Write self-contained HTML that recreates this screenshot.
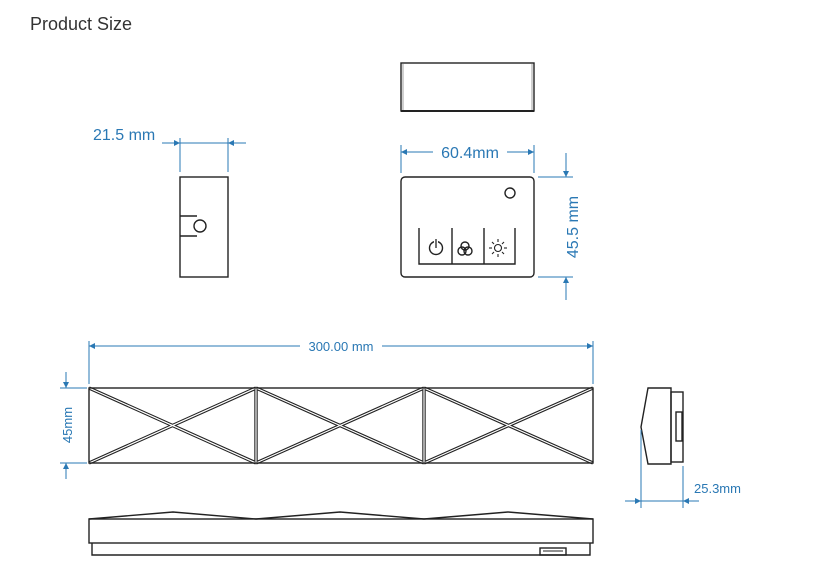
<!DOCTYPE html>
<html><head><meta charset="utf-8"><style>
html,body{margin:0;padding:0;background:#fff;}
svg{display:block;}
.b{fill:none;stroke:#222;stroke-width:1.4}
.d{stroke:#2a78b4;stroke-width:1;fill:none}
.t{fill:#2a78b4;font-family:"Liberation Sans",sans-serif}
</style></head><body>
<svg width="821" height="587" viewBox="0 0 821 587" xmlns="http://www.w3.org/2000/svg">
<defs>
<marker id="a" viewBox="0 0 10 10" refX="10" refY="5" markerWidth="8" markerHeight="6" orient="auto-start-reverse" markerUnits="userSpaceOnUse"><path d="M0,0 L10,5 L0,10 z" fill="#2a78b4"/></marker>
</defs>
<text x="30" y="30" font-family="Liberation Sans,sans-serif" font-size="18" fill="#333">Product Size</text>

<!-- top view -->
<rect x="401" y="63" width="133" height="48" class="b"/>
<line x1="401" y1="111" x2="534" y2="111" stroke="#222" stroke-width="2"/>
<line x1="403" y1="64" x2="403" y2="110" stroke="#888" stroke-width="0.8"/>
<line x1="532" y1="64" x2="532" y2="110" stroke="#888" stroke-width="0.8"/>

<!-- front view -->
<rect x="401" y="177" width="133" height="100" rx="4" class="b"/>
<circle cx="510" cy="193" r="5" class="b" stroke-width="1"/>
<path d="M419,228 V264 H515 V228 M452,228 V264 M484,228 V264" class="b"/>
<circle cx="436" cy="248" r="6.5" class="b" stroke-width="1.3"/>
<line x1="436" y1="239" x2="436" y2="248" stroke="#fff" stroke-width="4"/>
<line x1="436" y1="239" x2="436" y2="248" stroke="#222" stroke-width="1.3"/>
<circle cx="465" cy="246" r="4" class="b" stroke-width="1.1"/>
<circle cx="462" cy="251" r="4" class="b" stroke-width="1.1"/>
<circle cx="468" cy="251" r="4" class="b" stroke-width="1.1"/>
<g stroke="#222" stroke-width="1.1"><circle cx="498" cy="248" r="3.5" fill="none"/>
<line x1="498" y1="239" x2="498" y2="242"/><line x1="498" y1="254" x2="498" y2="257"/>
<line x1="489" y1="248" x2="492" y2="248"/><line x1="504" y1="248" x2="507" y2="248"/>
<line x1="492" y1="242" x2="494" y2="244"/><line x1="502" y1="252" x2="504" y2="254"/>
<line x1="504" y1="242" x2="502" y2="244"/><line x1="494" y1="252" x2="492" y2="254"/></g>
<!-- 60.4 -->
<line x1="401" y1="145" x2="401" y2="173" class="d"/>
<line x1="534" y1="145" x2="534" y2="173" class="d"/>
<line x1="401" y1="152" x2="433" y2="152" class="d" marker-start="url(#a)"/>
<line x1="507" y1="152" x2="534" y2="152" class="d" marker-end="url(#a)"/>
<text x="470" y="158" text-anchor="middle" class="t" font-size="16">60.4mm</text>
<!-- 45.5 -->
<line x1="538" y1="177" x2="573" y2="177" class="d"/>
<line x1="538" y1="277" x2="573" y2="277" class="d"/>
<line x1="566" y1="153" x2="566" y2="177" class="d" marker-end="url(#a)"/>
<line x1="566" y1="300" x2="566" y2="277" class="d" marker-end="url(#a)"/>
<text transform="translate(578,227) rotate(-90)" text-anchor="middle" class="t" font-size="16">45.5 mm</text>

<!-- side view -->
<rect x="180" y="177" width="48" height="100" class="b"/>
<path d="M180,216 H197 M180,236 H197" class="b" stroke-width="1.2"/>
<circle cx="200" cy="226" r="6" fill="#fff" class="b" stroke-width="1.2"/>
<line x1="180" y1="138" x2="180" y2="172" class="d"/>
<line x1="228" y1="138" x2="228" y2="172" class="d"/>
<line x1="162" y1="143" x2="180" y2="143" class="d" marker-end="url(#a)"/>
<line x1="246" y1="143" x2="228" y2="143" class="d" marker-end="url(#a)"/>
<line x1="180" y1="143" x2="228" y2="143" class="d"/>
<text x="93" y="140" class="t" font-size="16">21.5 mm</text>

<!-- long bar -->
<g stroke="#222" stroke-width="3.4" fill="none">
<path d="M89,388 L256,463 M89,463 L256,388 M256,388 L424,463 M256,463 L424,388 M424,388 L593,463 M424,463 L593,388 M256,388 V463 M424,388 V463"/>
</g>
<g stroke="#fff" stroke-width="1.2" fill="none">
<path d="M89,388 L256,463 M89,463 L256,388 M256,388 L424,463 M256,463 L424,388 M424,388 L593,463 M424,463 L593,388 M256,388 V463 M424,388 V463"/>
</g>
<rect x="89" y="388" width="504" height="75" class="b" stroke-width="1.6"/>
<!-- 300 -->
<line x1="89" y1="341" x2="89" y2="384" class="d"/>
<line x1="593" y1="341" x2="593" y2="384" class="d"/>
<line x1="89" y1="346" x2="593" y2="346" class="d" marker-start="url(#a)" marker-end="url(#a)"/>
<rect x="300" y="338" width="82" height="16" fill="#fff"/>
<text x="341" y="351" text-anchor="middle" class="t" font-size="13">300.00 mm</text>
<!-- 45mm -->
<line x1="60" y1="388" x2="87" y2="388" class="d"/>
<line x1="60" y1="463" x2="87" y2="463" class="d"/>
<line x1="66" y1="372" x2="66" y2="388" class="d" marker-end="url(#a)"/>
<line x1="66" y1="479" x2="66" y2="463" class="d" marker-end="url(#a)"/>
<text transform="translate(72,425) rotate(-90)" text-anchor="middle" class="t" font-size="13">45mm</text>

<!-- bottom view -->
<path d="M89,519 L173,512 L256,519 L340,512 L424,519 L508,512 L593,519" class="b" stroke-width="1.2"/>
<rect x="89" y="519" width="504" height="24" class="b" stroke-width="1.6"/>
<path d="M92,543 V555 H590 V543" class="b" stroke-width="1.2"/>
<rect x="540" y="548" width="26" height="7" class="b" stroke-width="1.2"/>
<line x1="543" y1="551" x2="563" y2="551" stroke="#222" stroke-width="1"/>

<!-- right side view -->
<path d="M648,388 L671,388 L671,464 L648,464 L641,427 Z" class="b"/>
<rect x="671" y="392" width="12" height="70" class="b"/>
<rect x="676" y="412" width="6" height="29" class="b" stroke-width="1.2"/>
<line x1="641" y1="430" x2="641" y2="508" class="d"/>
<line x1="683" y1="466" x2="683" y2="508" class="d"/>
<line x1="625" y1="501" x2="641" y2="501" class="d" marker-end="url(#a)"/>
<line x1="699" y1="501" x2="683" y2="501" class="d" marker-end="url(#a)"/>
<line x1="641" y1="501" x2="683" y2="501" class="d"/>
<text x="694" y="493" class="t" font-size="13">25.3mm</text>
</svg>
</body></html>
